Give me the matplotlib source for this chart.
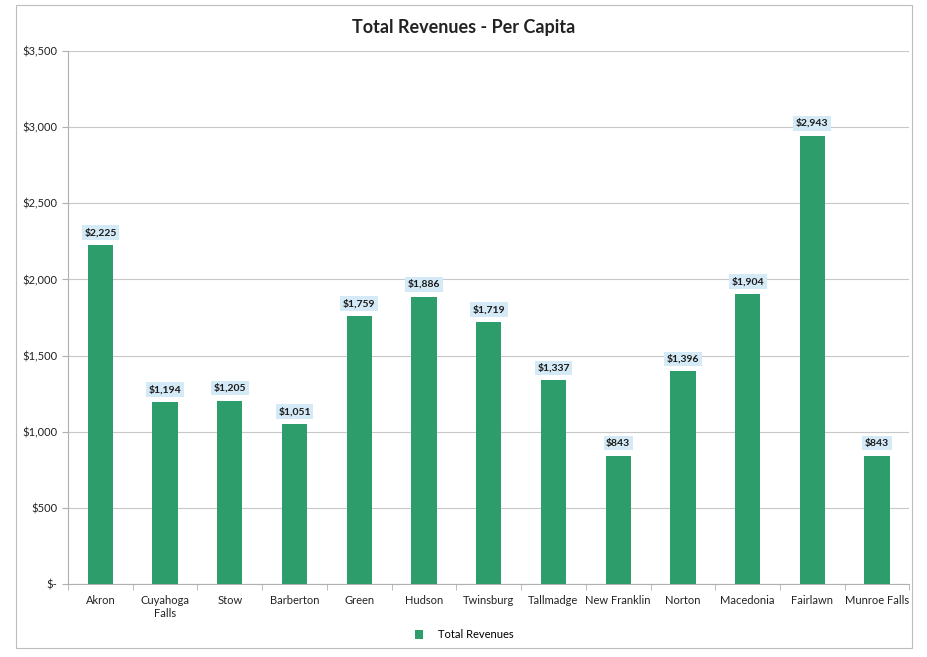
"""Per-capita total revenues by community, bar chart."""

import matplotlib.pyplot as plt
from matplotlib.patches import Rectangle
from matplotlib.ticker import FuncFormatter, MultipleLocator

cities = [
    "Akron", "Cuyahoga\nFalls", "Stow", "Barberton", "Green", "Hudson",
    "Twinsburg", "Tallmadge", "New Franklin", "Norton", "Macedonia",
    "Fairlawn", "Munroe Falls",
]
revenues = [2225, 1194, 1205, 1051, 1759, 1886, 1719, 1337, 843, 1396, 1904, 2943, 843]

BAR = "#2e9d6c"
GRID = "#c8c8c8"

plt.rcParams["font.family"] = ["Lato", "DejaVu Sans"]

fig = plt.figure(figsize=(9.28, 6.57), dpi=100)
ax = fig.add_axes([0.0733, 0.111, 0.9067, 0.8114])

# outer chart frame
fig.patches.append(Rectangle((16 / 928, 1 - 648 / 657), 896 / 928, 643 / 657,
                             transform=fig.transFigure, fill=False,
                             edgecolor="#bdbdbd", linewidth=0.8))

x = range(len(cities))
ax.bar(x, revenues, width=0.39, color=BAR, zorder=3, label="Total Revenues")

for xi, v in zip(x, revenues):
    ax.annotate(f"${v:,}", (xi, v), xytext=(0, 9), textcoords="offset points",
                ha="center", va="center", fontsize=7.5, fontweight="bold",
                color="#1a1a1a", zorder=4,
                bbox=dict(boxstyle="square,pad=0.25", fc="#d5eaf7", ec="none"))

ax.set_xlim(-0.5, len(cities) - 0.5)
ax.set_ylim(0, 3500)
ax.yaxis.set_major_locator(MultipleLocator(500))
ax.yaxis.set_major_formatter(FuncFormatter(lambda v, _: "$-" if v == 0 else f"${v:,.0f}"))
ax.grid(axis="y", color=GRID, linewidth=0.8, zorder=0)

ax.set_xticks(list(x))
ax.set_xticklabels(cities)
ax.set_xticks([i + 0.5 for i in range(-1, len(cities))], minor=True)
ax.tick_params(axis="x", which="major", length=0, pad=8, labelsize=8, colors="#222222")
ax.tick_params(axis="x", which="minor", length=4, color="#b0b0b0")
ax.tick_params(axis="y", length=4, color="#b0b0b0", labelsize=8, labelcolor="#222222")

for side in ("top", "right"):
    ax.spines[side].set_visible(False)
for side in ("left", "bottom"):
    ax.spines[side].set_color("#b0b0b0")
    ax.spines[side].set_linewidth(0.8)

fig.text(0.5, 1 - 28 / 657, "Total Revenues - Per Capita", ha="center", va="center",
         fontsize=13, fontweight="bold", color="#222222")

fig.legend(loc="center", bbox_to_anchor=(0.5, 1 - 635 / 657), frameon=False,
           fontsize=8, handlelength=0.8, handleheight=0.8, handletextpad=1.3)

fig.savefig("out.png", dpi=100)
